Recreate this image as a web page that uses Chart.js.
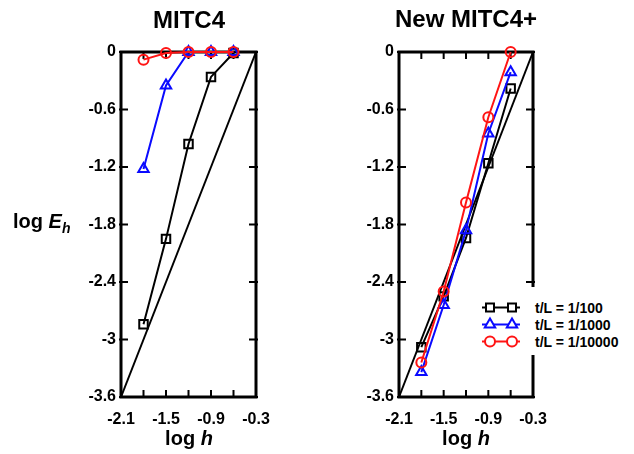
<!DOCTYPE html>
<html>
<head>
<meta charset="utf-8">
<title>MITC4 vs New MITC4+</title>
<script src="https://cdn.jsdelivr.net/npm/chart.js@4.4.1/dist/chart.umd.min.js"></script>
<style>
  body { margin: 0; background: #fff; }
  #wrap { position: relative; width: 634px; height: 454px; overflow: hidden; background: #fff;
          font-family: "Liberation Sans", Arial, sans-serif; font-weight: bold; color: #000; }
  canvas { position: absolute; top: 0; }
  .txt { position: absolute; white-space: nowrap; line-height: 1; }
  .center { transform: translateX(-50%); }
  .title { font-size: 24px; }
  .axis { font-size: 20px; }
  .axis i { font-style: italic; }
  .axis sub { font-size: 14px; font-style: italic; vertical-align: -5px; line-height: 0; }
  #legend { position: absolute; left: 478px; top: 287px; width: 156px; height: 68px; background: #fff;
            padding-top: 12px; box-sizing: border-box; font-size: 14px; }
  #legend .row { display: flex; align-items: center; height: 17px; }
  #legend svg { display: block; margin-right: 7px; }
</style>
</head>
<body>
<div id="wrap">
  <canvas id="leftChart" width="290" height="454" style="left:0"></canvas>
  <canvas id="rightChart" width="290" height="454" style="left:290px"></canvas>

  <div class="txt title center" style="left:189px; top:8px">MITC4</div>
  <div class="txt title center" style="left:466px; top:7px">New MITC4+</div>
  <div class="txt axis" style="left:13px; top:211px">log <i>E</i><sub>h</sub></div>
  <div class="txt axis center" style="left:189px; top:428px">log <i>h</i></div>
  <div class="txt axis center" style="left:466px; top:428px">log <i>h</i></div>

  <div id="legend"></div>
</div>

<script>
// DATA
const logH = [-1.8, -1.5, -1.2, -0.9, -0.6];
const thicknessLabels = ["t/L = 1/100", "t/L = 1/1000", "t/L = 1/10000"];

// MITC4 (left panel), log Eh for each thickness
const mitc4E100 = [-2.84, -1.95, -0.96, -0.26, -0.01];
const mitc4E1000 = [-1.22, -0.35, 0, 0, 0];
const mitc4E10000 = [-0.08, -0.01, 0, 0, 0];

// New MITC4+ (right panel)
const newE100 = [-3.08, -2.55, -1.94, -1.16, -0.38];
const newE1000 = [-3.34, -2.64, -1.86, -0.85, -0.21];
const newE10000 = [-3.24, -2.5, -1.57, -0.68, 0];

// slope-2 reference line
const refH = [-2.1, -0.3];
const refE = [-3.6, 0];

// ticks
const xTickValues = [-2.1, -1.8, -1.5, -1.2, -0.9, -0.6, -0.3];
const xTickLabels = ["-2.1", "", "-1.5", "", "-0.9", "", "-0.3"];
const yTickValues = [-3.6, -3, -2.4, -1.8, -1.2, -0.6, 0];
const yTickLabels = ["-3.6", "-3", "-2.4", "-1.8", "-1.2", "-0.6", "0"];

// STYLES
const seriesColors = ["#000000", "#0a0aff", "#ff1414"];
const seriesStyles = ["rect", "triangle", "circle"];
const seriesRadius = [6, 6, 5];
const tickFont = { family: "'Liberation Sans', Arial, sans-serif", size: 16, weight: "bold" };

function series(idx, values) {
    return {
        label: thicknessLabels[idx],
        data: logH.map((h, i) => ({ x: h, y: values[i] })),
        borderColor: seriesColors[idx],
        backgroundColor: seriesColors[idx],
        pointStyle: seriesStyles[idx],
        pointRadius: seriesRadius[idx],
        pointBorderWidth: 2,
        pointBackgroundColor: "rgba(255,255,255,0)",
        pointBorderColor: seriesColors[idx],
        borderWidth: 2,
        tension: 0,
        clip: false,
        order: 3 - idx   // red drawn on top, black underneath
    };
}

function refLine() {
    return {
        label: "slope 2",
        data: refH.map((h, i) => ({ x: h, y: refE[i] })),
        borderColor: "#000",
        borderWidth: 2,
        pointRadius: 0,
        clip: false,
        order: 10
    };
}

// FRAME + INWARD TICKS
const framePlugin = {
    id: "frame",
    beforeDatasetsDraw(chart) {
        const { ctx, chartArea: a, scales } = chart;
        ctx.save();
        ctx.strokeStyle = "#000";
        ctx.lineWidth = 2;
        ctx.beginPath();
        scales.x.ticks.forEach(t => {
            const px = scales.x.getPixelForValue(t.value);
            ctx.moveTo(px, a.bottom); ctx.lineTo(px, a.bottom - 7);
            ctx.moveTo(px, a.top); ctx.lineTo(px, a.top + 7);
        });
        scales.y.ticks.forEach(t => {
            const py = scales.y.getPixelForValue(t.value);
            ctx.moveTo(a.left - 2, py); ctx.lineTo(a.left + 7, py);
            ctx.moveTo(a.right + 2, py); ctx.lineTo(a.right - 7, py);
        });
        ctx.stroke();
        ctx.lineWidth = 3;
        ctx.strokeRect(a.left, a.top, a.right - a.left, a.bottom - a.top);
        ctx.restore();
    }
};

function makeChart(canvasId, datasets, yWidth, rightPad) {
    return new Chart(document.getElementById(canvasId), {
        type: "line",
        data: { datasets },
        options: {
            responsive: false,
            animation: false,
            devicePixelRatio: 1,
            layout: { padding: { top: 52, right: rightPad, left: 0, bottom: 0 } },
            plugins: { legend: { display: false }, tooltip: { enabled: false } },
            scales: {
                x: {
                    type: "linear",
                    min: -2.1,
                    max: -0.3,
                    afterBuildTicks: s => { s.ticks = xTickValues.map(v => ({ value: v })); },
                    afterFit: s => { s.height = 57; },
                    grid: { display: false, drawTicks: false },
                    border: { display: false },
                    ticks: {
                        autoSkip: false, maxRotation: 0, minRotation: 0, padding: 13,
                        color: "#000", font: tickFont,
                        callback: (v, i) => xTickLabels[i]
                    }
                },
                y: {
                    type: "linear",
                    min: -3.6,
                    max: 0,
                    afterBuildTicks: s => { s.ticks = yTickValues.map(v => ({ value: v })); },
                    afterFit: s => { s.width = yWidth; },
                    grid: { display: false, drawTicks: false },
                    border: { display: false },
                    ticks: {
                        autoSkip: false, padding: 5,
                        color: "#000", font: tickFont,
                        callback: (v, i) => yTickLabels[i]
                    }
                }
            }
        },
        plugins: [framePlugin]
    });
}

makeChart("leftChart", [
    series(0, mitc4E100),
    series(1, mitc4E1000),
    series(2, mitc4E10000),
    refLine()
], 121, 34);

makeChart("rightChart", [
    series(0, newE100),
    series(1, newE1000),
    series(2, newE10000),
    refLine()
], 109, 47);

// LEGEND (right panel)
function markerSvg(idx, cx) {
    const c = seriesColors[idx];
    if (seriesStyles[idx] === "rect") {
        return `<rect x="${cx - 4}" y="4.5" width="8" height="8" fill="#fff" stroke="${c}" stroke-width="2"/>`;
    }
    if (seriesStyles[idx] === "triangle") {
        return `<polygon points="${cx},2.5 ${cx - 5.2},11.5 ${cx + 5.2},11.5" fill="#fff" stroke="${c}" stroke-width="2"/>`;
    }
    return `<circle cx="${cx}" cy="8.5" r="5" fill="#fff" stroke="${c}" stroke-width="2"/>`;
}

const legend = document.getElementById("legend");
thicknessLabels.forEach((label, idx) => {
    const row = document.createElement("div");
    row.className = "row";
    row.innerHTML =
        `<svg width="50" height="17"><line x1="4" y1="8.5" x2="42" y2="8.5" stroke="${seriesColors[idx]}" stroke-width="2"/>` +
        markerSvg(idx, 12) + markerSvg(idx, 34) + `</svg><span>${label}</span>`;
    legend.appendChild(row);
});
</script>
</body>
</html>
